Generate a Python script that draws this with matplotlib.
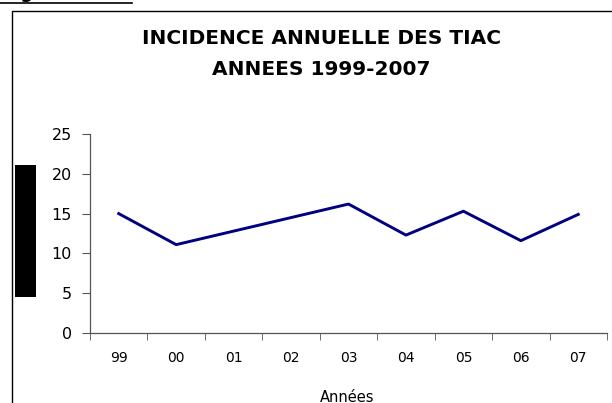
import matplotlib
matplotlib.use("Agg")
import matplotlib.pyplot as plt
from matplotlib.patches import Rectangle
from matplotlib.lines import Line2D

# Annual incidence of TIAC, 1999-2007
years = ['99', '00', '01', '02', '03', '04', '05', '06', '07']
incidence = [15.0, 11.1, 12.8, 14.5, 16.2, 12.3, 15.3, 11.6, 14.9]

plt.rcParams['font.family'] = ['DejaVu Sans']

W, H = 612, 403
fig = plt.figure(figsize=(W / 100, H / 100), dpi=100)
ax = fig.add_axes([90 / W, 1 - 333 / H, 517 / W, 199 / H])

x = list(range(len(years)))
ax.plot(x, incidence, color='#000080', linewidth=2.1)

ax.set_xlim(-0.5, len(years) - 0.5)
ax.set_ylim(0, 25)
ax.set_yticks([0, 5, 10, 15, 20, 25])
ax.set_xticks(x)
ax.set_xticklabels(years)
# category ticks sit between labels, as in the spreadsheet chart
ax.set_xticks([i - 0.5 for i in range(len(years) + 1)], minor=True)
ax.tick_params(axis='x', which='major', length=0, pad=13, labelsize=10)
ax.tick_params(axis='x', which='minor', length=5, direction='out', color='#555555')
ax.tick_params(axis='y', length=6, direction='out', color='#555555', labelsize=11.5, pad=7)

for side in ['top', 'right']:
    ax.spines[side].set_visible(False)
for side in ['left', 'bottom']:
    ax.spines[side].set_color('#555555')
    ax.spines[side].set_linewidth(0.9)

fig.text(347 / W, 1 - 401.5 / H, 'Années', ha='center', va='baseline', fontsize=10.5)

fig.text(321 / W, 1 - 44 / H, 'INCIDENCE ANNUELLE DES TIAC', ha='center', va='baseline',
         fontsize=14.5, fontweight='bold')
fig.text(321 / W, 1 - 75 / H, 'ANNEES 1999-2007', ha='center', va='baseline',
         fontsize=14.5, fontweight='bold')

# frame around the chart (runs past the page edge)
fig.patches.append(Rectangle((12 / W, -0.1), 1.1, 1 - 10.5 / H + 0.1, transform=fig.transFigure,
                             fill=False, edgecolor='black', linewidth=1.0, clip_on=False))

# cut-off heading above the frame
fig.text(2 / W, 1 - 2 / H, 'Figure 1', ha='left', va='bottom', fontsize=13, fontweight='bold')
fig.lines.append(Line2D([0, 132 / W], [1 - 3 / H, 1 - 3 / H], transform=fig.transFigure,
                        color='black', linewidth=1.2))

# redacted y-axis label
fig.patches.append(Rectangle((15 / W, 1 - 297 / H), 21 / W, 132 / H, transform=fig.transFigure,
                             facecolor='black', edgecolor='none'))

fig.savefig('out.png', dpi=100)
